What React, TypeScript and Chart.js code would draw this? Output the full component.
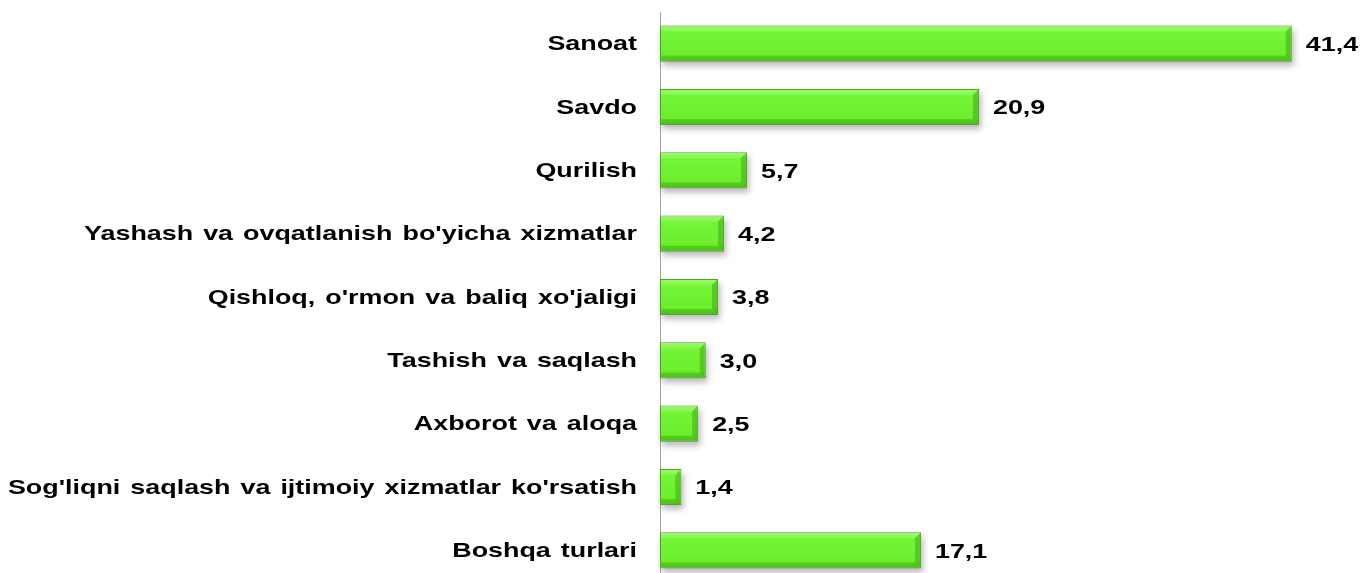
import React, { useEffect, useRef } from "react";
import { Chart, registerables } from "chart.js";

Chart.register(...registerables);

const categories: string[] = [
  "Sanoat",
  "Savdo",
  "Qurilish",
  "Yashash va ovqatlanish bo'yicha xizmatlar",
  "Qishloq, o'rmon va baliq xo'jaligi",
  "Tashish va saqlash",
  "Axborot va aloqa",
  "Sog'liqni saqlash va ijtimoiy xizmatlar ko'rsatish",
  "Boshqa turlari",
];

const values: number[] = [41.4, 20.9, 5.7, 4.2, 3.8, 3.0, 2.5, 1.4, 17.1];

const FONT = 'bold 21px "Liberation Sans", Arial, sans-serif';
const STRETCH = 1.28;

function fmt(v: number): string {
  return v.toFixed(1).replace(".", ",");
}

const shadowPlugin = {
  id: "barShadow",
  beforeDatasetsDraw(chart: any) {
    const ctx = chart.ctx;
    const meta = chart.getDatasetMeta(0);
    ctx.save();
    ctx.filter = "blur(3px)";
    ctx.fillStyle = "rgba(0,0,0,0.28)";
    meta.data.forEach((bar: any) => {
      const { x, y, base, height } = bar.getProps(["x", "y", "base", "height"], true);
      ctx.fillRect(base + 2, y - height / 2 + 4, x - base, height);
    });
    ctx.restore();
  },
};

const bevelPlugin = {
  id: "barBevel",
  afterDatasetsDraw(chart: any) {
    const ctx = chart.ctx;
    const meta = chart.getDatasetMeta(0);
    const b = 5;
    meta.data.forEach((bar: any) => {
      const { x, y, base, height } = bar.getProps(["x", "y", "base", "height"], true);
      const l = base + 1;
      const r = x - 1;
      const t = y - height / 2 + 1;
      const bt = y + height / 2 - 1;
      ctx.save();
      ctx.fillStyle = "rgba(255,255,255,0.14)";
      ctx.beginPath();
      ctx.moveTo(l, t);
      ctx.lineTo(r, t);
      ctx.lineTo(r - b, t + b);
      ctx.lineTo(l, t + b);
      ctx.closePath();
      ctx.fill();
      ctx.fillStyle = "rgba(40,120,10,0.25)";
      ctx.beginPath();
      ctx.moveTo(l, bt);
      ctx.lineTo(r, bt);
      ctx.lineTo(r - b, bt - b);
      ctx.lineTo(l, bt - b);
      ctx.closePath();
      ctx.fill();
      ctx.fillStyle = "rgba(40,120,10,0.33)";
      ctx.beginPath();
      ctx.moveTo(r, t);
      ctx.lineTo(r, bt);
      ctx.lineTo(r - b, bt - b);
      ctx.lineTo(r - b, t + b);
      ctx.closePath();
      ctx.fill();
      ctx.restore();
    });
  },
};

const labelsPlugin = {
  id: "textLabels",
  afterDraw(chart: any) {
    const ctx = chart.ctx;
    const yScale = chart.scales.y;
    const meta = chart.getDatasetMeta(0);
    ctx.save();
    ctx.font = FONT;
    ctx.fillStyle = "#000000";
    ctx.textBaseline = "middle";
    try {
      (ctx as any).wordSpacing = "2px";
    } catch (e) {}
    categories.forEach((label, i) => {
      const yc = yScale.getPixelForTick(i) + 1;
      ctx.save();
      ctx.translate(yScale.right - 23, yc);
      ctx.scale(STRETCH, 1);
      ctx.textAlign = "right";
      ctx.fillText(label, 0, 0);
      ctx.restore();
    });
    meta.data.forEach((bar: any, i: number) => {
      const { x, y } = bar.getProps(["x", "y"], true);
      ctx.save();
      ctx.translate(x + 14, y + 1.5);
      ctx.scale(STRETCH, 1);
      ctx.textAlign = "left";
      ctx.fillText(fmt(values[i]), 0, 0);
      ctx.restore();
    });
    ctx.restore();
  },
};

export default function App() {
  const ref = useRef<HTMLCanvasElement | null>(null);

  useEffect(() => {
    if (!ref.current) return;
    const chart = new Chart(ref.current, {
      type: "bar",
      data: {
        labels: categories,
        datasets: [
          {
            data: values,
            backgroundColor: (c: any) => {
              const ch = c.chart;
              const ys = ch.scales && ch.scales.y;
              if (!ys || !ch.chartArea) return "#6FF02F";
              const yc = ys.getPixelForValue(c.dataIndex);
              const h = 36;
              const g = ch.ctx.createLinearGradient(0, yc - h / 2, 0, yc + h / 2);
              g.addColorStop(0, "#8EF75A");
              g.addColorStop(0.15, "#74F536");
              g.addColorStop(0.8, "#6CEE2D");
              g.addColorStop(1, "#5AD422");
              return g;
            },
            borderColor: "#4FA824",
            borderWidth: 1,
            borderSkipped: false,
            barPercentage: 0.57,
            categoryPercentage: 1,
          },
        ],
      },
      options: {
        indexAxis: "y",
        responsive: false,
        animation: false,
        layout: { padding: { top: 12, bottom: 12, left: 0, right: 0 } },
        plugins: {
          legend: { display: false },
          tooltip: { enabled: false },
        },
        scales: {
          x: {
            display: false,
            min: 0,
            max: 46,
          },
          y: {
            z: 1,
            grid: { display: false },
            border: { display: true, color: "#A6A6A6", width: 1 },
            ticks: { display: false },
            afterFit: (scale: any) => {
              scale.width = 660;
            },
          },
        },
      },
      plugins: [shadowPlugin, bevelPlugin, labelsPlugin],
    });
    return () => chart.destroy();
  }, []);

  return (
    <div
      style={{
        position: "fixed",
        left: 0,
        top: 0,
        width: 1362,
        height: 573,
        overflow: "hidden",
        background: "#ffffff",
      }}
    >
      <canvas ref={ref} width={1362} height={594} style={{ display: "block" }} />
    </div>
  );
}
